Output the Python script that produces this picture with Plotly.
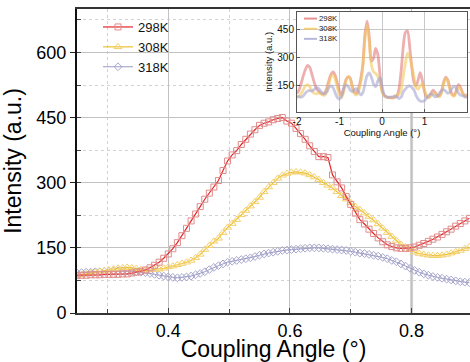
import numpy as np
import plotly.graph_objects as go

# ---------------- main panel data ----------------
x_main = np.round(0.25 + 0.0075 * np.arange(87), 4)

i298 = [87, 87, 87, 88, 88, 88, 89, 89, 89, 89,
        90, 90, 92, 94, 96, 99, 104, 110, 117, 126,
        136, 148, 162, 178, 195, 212, 228, 245, 262, 276,
        290, 305, 328, 350, 364, 374, 388, 400, 412, 422,
        432, 437, 440, 445, 448, 450, 442, 437, 425, 413,
        400, 385, 372, 360, 360, 358, 318, 302, 288, 268,
        250, 230, 215, 205, 193, 183, 173, 164, 157, 153,
        150, 149, 149, 150, 152, 156, 160, 165, 170, 175,
        181, 187, 193, 200, 206, 212, 218]

i308 = [86, 88, 90, 92, 94, 96, 97, 99, 101, 103,
        104, 105, 104, 102, 100, 99, 99, 100, 101, 103,
        106, 108, 111, 114, 117, 121, 127, 135, 146, 155,
        165, 172, 185, 197, 206, 215, 226, 236, 246, 256,
        266, 279, 290, 300, 310, 317, 321, 324, 325, 324,
        322, 318, 313, 307, 300, 294, 288, 279, 270, 262,
        254, 245, 238, 230, 222, 214, 205, 195, 185, 176,
        167, 158, 152, 146, 140, 137, 135, 133, 132, 132,
        133, 135, 138, 141, 144, 148, 152]

i318 = [92, 93, 94, 94, 95, 95, 96, 96, 97, 97,
        97, 97, 96, 95, 94, 93, 91, 89, 87, 85,
        83, 82, 81, 82, 83, 85, 88, 91, 95, 100,
        105, 109, 113, 117, 119, 121, 123, 125, 127, 130,
        133, 136, 138, 140, 142, 144, 145, 146, 147, 148,
        149, 150, 150, 150, 149, 148, 147, 146, 145, 144,
        142, 140, 138, 137, 135, 133, 131, 128, 125, 121,
        118, 113, 108, 103, 98, 94, 90, 87, 84, 82,
        80, 78, 76, 74, 72, 71, 70]

# ---------------- inset data ----------------
x_inset = np.round(-2 + 0.05 * np.arange(81), 2)

in298 = [110, 130, 165, 205, 238, 258, 248, 212, 172, 140,
         122, 112, 106, 112, 138, 178, 212, 224, 205, 165,
         122, 102, 138, 182, 198, 192, 150, 118, 110, 138,
         188, 265, 425, 492, 410, 280, 295, 348, 318, 215,
         128, 100, 92, 89, 88, 87, 89, 96, 136, 228,
         358, 432, 440, 360, 250, 170, 150, 181, 220, 178,
         118, 92, 90, 108, 128, 116, 100, 98, 122, 170,
         196, 180, 136, 106, 100, 128, 156, 142, 112, 96,
         106]

in308 = [88, 95, 110, 130, 150, 156, 145, 125, 112, 108,
         112, 110, 102, 100, 118, 160, 198, 208, 185, 140,
         100, 88, 120, 175, 198, 188, 140, 108, 102, 122,
         168, 250, 400, 470, 380, 260, 225, 215, 200, 170,
         118, 96, 90, 88, 87, 86, 97, 101, 106, 129,
         201, 268, 323, 304, 254, 201, 142, 133, 150, 160,
         130, 98, 88, 96, 112, 106, 96, 92, 110, 160,
         190, 172, 128, 100, 96, 118, 142, 132, 108, 94,
         98]

in318 = [96, 92, 90, 98, 112, 122, 126, 122, 130, 140,
         138, 124, 112, 108, 118, 140, 150, 140, 112, 88,
         80, 96, 135, 155, 148, 128, 120, 130, 135, 118,
         102, 115, 160, 205, 218, 195, 160, 145, 175, 192,
         150, 105, 92, 90, 91, 92, 96, 94, 83, 90,
         118, 133, 146, 150, 142, 130, 100, 80, 70, 68,
         72, 85, 100, 108, 102, 92, 96, 112, 125, 130,
         122, 110, 118, 138, 148, 135, 112, 100, 98, 92,
         90]

series_names = ["298K", "308K", "318K"]
inset_ticks = [-2, -1, 0, 1, 2]
inset_ticktext = ["-2", "-1", "0", "1", "2"]

FONT = "Liberation Sans, Arial, sans-serif"

fig = go.Figure()

# main traces (drawn purple, yellow, red so red is on top)
fig.add_trace(go.Scatter(
    x=x_main, y=i318, name=series_names[2], mode="lines+markers", legendrank=3,
    line=dict(color="#9a9ac4", width=1),
    marker=dict(symbol="diamond-open", size=6, color="#a6a6cc", line=dict(width=1, color="#a6a6cc"))))
fig.add_trace(go.Scatter(
    x=x_main, y=i308, name=series_names[1], mode="lines+markers", legendrank=2,
    line=dict(color="#edc032", width=1.2),
    marker=dict(symbol="triangle-up-open", size=7, color="#f4d06c", line=dict(width=1, color="#f4d06c"))))
fig.add_trace(go.Scatter(
    x=x_main, y=i298, name=series_names[0], mode="lines+markers", legendrank=1,
    line=dict(color="#e3262a", width=1.2),
    marker=dict(symbol="square-open", size=6, color="#e08c8c", line=dict(width=1, color="#e08c8c"))))

# inset traces
inset_cols = ["rgba(222,110,110,0.55)", "rgba(244,200,90,0.6)", "rgba(165,165,210,0.6)"]
for ys, nm, col in zip([in298, in308, in318], series_names, inset_cols):
    fig.add_trace(go.Scatter(
        x=x_inset, y=ys, name=nm, mode="lines", showlegend=False,
        xaxis="x2", yaxis="y2",
        line=dict(color=col, width=2.8, shape="spline", smoothing=0.8)))

# geometry helpers (pixel -> paper)
W, H, L, B, T = 470, 362, 77, 49, 9
pw, ph = W - L, H - B - T
def px(xp):
    return (xp - L) / pw
def py(yp):
    return (H - B - yp) / ph

shapes = []
annotations = []
# inset legend: one text block, line samples beside each row
leg_cols = ["rgba(222,110,110,0.75)", "rgba(244,200,90,0.8)", "rgba(165,165,210,0.8)"]
fs_leg = 7.8
row_h = fs_leg * 1.3
top_leg = 13
for k, col in enumerate(leg_cols):
    yy = top_leg + row_h * (k + 0.5) + 0.5
    shapes.append(dict(type="line", xref="paper", yref="paper",
                       x0=px(304), x1=px(317), y0=py(yy), y1=py(yy),
                       line=dict(color=col, width=2)))
annotations.append(dict(text="<br>".join(series_names), xref="paper", yref="paper",
                        x=px(318), y=py(top_leg), xanchor="left", yanchor="top", align="left",
                        showarrow=False, borderpad=0,
                        font=dict(size=fs_leg, color="#222", family=FONT)))

# thick light vertical line at 0.8
shapes.append(dict(type="line", xref="x", yref="paper", x0=0.8, x1=0.8, y0=0, y1=0.99,
                   line=dict(color="#cfcfcf", width=3), layer="below"))

fig.update_layout(
    width=W, height=H,
    margin=dict(l=L, r=0, t=T, b=B, autoexpand=False),
    paper_bgcolor="white", plot_bgcolor="white",
    font=dict(family=FONT, color="#000"),
    showlegend=True,
    legend=dict(x=px(98), y=py(12), xanchor="left", yanchor="top",
                bgcolor="rgba(0,0,0,0)", font=dict(size=13, family=FONT, color="#111"),
                traceorder="normal"),
    shapes=shapes,
    annotations=annotations,
    xaxis=dict(
        domain=[0, 1], range=[0.25, 0.896], tick0=0, dtick=0.2, automargin=False,
        ticks="inside", ticklen=5, tickcolor="#444",
        showline=True, linecolor="#333", linewidth=2, mirror=True,
        showgrid=True, gridcolor="#c2c2c2", gridwidth=1, zeroline=False,
        tickfont=dict(size=18, family=FONT, color="#000"),
        minor=dict(dtick=0.1, tick0=0, ticks="inside", ticklen=4, tickcolor="#444",
                   showgrid=True, gridcolor="#d2d2d2", griddash="dot"),
        title=dict(text="Coupling Angle (°)", font=dict(size=23, family=FONT, color="#000"), standoff=13),
    ),
    yaxis=dict(
        domain=[0, 1], range=[0, 700], tick0=0, dtick=150, automargin=False,
        ticks="outside", ticklen=5, tickcolor="#222",
        showline=True, linecolor="#111", linewidth=2, mirror=False,
        showgrid=True, gridcolor="#c2c2c2", gridwidth=1, zeroline=False,
        tickfont=dict(size=18, family=FONT, color="#000"),
        minor=dict(dtick=75, tick0=0, ticks="inside", ticklen=4, tickcolor="#444",
                   showgrid=True, gridcolor="#d2d2d2", griddash="dot"),
        title=dict(text="Intensity (a.u.)", font=dict(size=23, family=FONT, color="#000"), standoff=8),
    ),
    xaxis2=dict(
        domain=[px(297), px(467)], anchor="y2", range=[-2, 2], automargin=False,
        tickvals=inset_ticks, ticktext=inset_ticktext,
        ticks="inside", ticklen=3, tickcolor="#555",
        showline=True, linecolor="#555", linewidth=1, mirror=True,
        showgrid=True, gridcolor="#c8c8c8", zeroline=False,
        tickfont=dict(size=10, family=FONT, color="#111"),
        title=dict(text="Coupling Angle (°)", font=dict(size=9.5, family=FONT, color="#111"), standoff=2),
    ),
    yaxis2=dict(
        domain=[py(112), py(12)], anchor="x2", range=[12, 540], automargin=False,
        tickvals=[150, 300, 450],
        ticks="inside", ticklen=3, tickcolor="#555",
        showline=True, linecolor="#555", linewidth=1, mirror=True,
        showgrid=True, gridcolor="#c8c8c8", zeroline=False,
        tickfont=dict(size=10, family=FONT, color="#111"),
        title=dict(text="Intensity (a.u.)", font=dict(size=9.5, family=FONT, color="#111"), standoff=2),
    ),
)

fig.write_html("out.html", config={"displayModeBar": False},
               post_script="document.body.style.margin='0';")
